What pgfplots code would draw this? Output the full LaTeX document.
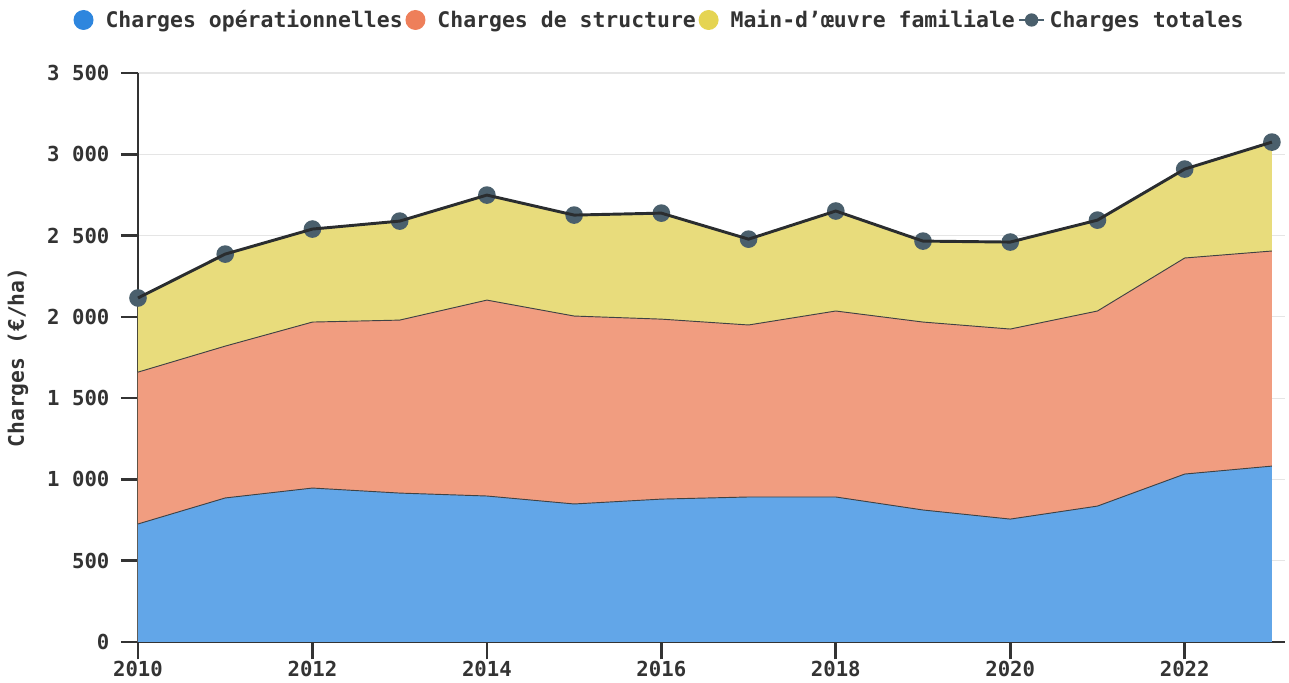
\documentclass[border=0pt]{standalone}
\usepackage{pgfplots}
\pgfplotsset{compat=1.18}
\usepackage{pgfplotstable}
\usepackage{fontspec}
\setmainfont{DejaVu Sans Mono}
\definecolor{blueL}{HTML}{2E86DE}
\definecolor{blueA}{HTML}{62A6E8}
\definecolor{orL}{HTML}{EE7F5A}
\definecolor{orA}{HTML}{F19D80}
\definecolor{yeL}{HTML}{E5D452}
\definecolor{yeA}{HTML}{E8DC7C}
\definecolor{totL}{HTML}{2A2D2F}
\definecolor{totM}{HTML}{4A5F6C}
\definecolor{axc}{HTML}{333333}
\definecolor{txt}{HTML}{333333}
\pgfplotstableread{
year op st tot
2010 726 1660 2116
2011 886 1820 2386
2012 947 1968 2540
2013 916 1980 2589
2014 898 2103 2749
2015 849 2005 2626
2016 879 1986 2638
2017 892 1950 2478
2018 892 2036 2651
2019 812 1968 2466
2020 756 1925 2460
2021 836 2036 2595
2022 1033 2362 2909
2023 1082 2405 3075
}\data
\pgfplotsset{layers/mylayers/.define layer set={axis background,axis ticks,main,axis grid,axis lines,axis tick labels,axis descriptions,axis foreground}{}}
\begin{document}
\begin{tikzpicture}
\begin{axis}[
  set layers=mylayers,
  scale only axis,
  width=860.25pt, height=426.75pt,
  xmin=2010, xmax=2023.15, ymin=0, ymax=3500,
  axis x line=bottom, axis y line=left,
  axis line style={-, line width=2pt, draw=axc},
  xtick={2010,2012,...,2022},
  ytick={0,500,...,3500},
  tick align=outside,
  major tick length=13pt,
  tick style={line width=2pt, draw=axc},
  ymajorgrids, grid style={black, draw opacity=0.1, line width=0.8pt},
  /pgf/number format/assume math mode=true,
  x tick label style={/pgf/number format/1000 sep={}, font=\fontsize{15.5}{17}\selectfont\bfseries, text=txt, yshift=2pt},
  y tick label style={/pgf/number format/1000 sep={\ }, font=\fontsize{15.5}{17}\selectfont\bfseries, text=txt, xshift=-5pt},
  ylabel={Charges (€/ha)},
  ylabel style={font=\fontsize{16}{18}\selectfont\bfseries, text=txt, at={(axis description cs:-0.1046,0.5)}, anchor=center},
  legend style={at={(0.4538,1)}, anchor=center, yshift=39.75pt, draw=none, fill=none,
    font=\fontsize{16.1}{18}\selectfont\bfseries, text=txt,
    nodes={inner sep=0pt},
    /tikz/every even column/.append style={column sep=2pt},
    inner sep=0pt},
  legend columns=4,
  legend cell align=left,
]
\addlegendimage{legend image code/.code={\fill[blueL, draw=none] (7.5pt,0) circle (7.5pt); \path[draw=none, fill=none] (0,0) rectangle (24pt,0.1pt);}}
\addlegendentry{Charges opérationnelles}
\addlegendimage{legend image code/.code={\fill[orL, draw=none] (7.5pt,0) circle (7.5pt); \path[draw=none, fill=none] (0,0) rectangle (24pt,0.1pt);}}
\addlegendentry{Charges de structure}
\addlegendimage{legend image code/.code={\fill[yeL, draw=none] (7.5pt,0) circle (7.5pt); \path[draw=none, fill=none] (0,0) rectangle (24pt,0.1pt);}}
\addlegendentry{Main-d'œuvre familiale}
\addlegendimage{legend image code/.code={\draw[totM, line width=2pt] (0,0)--(19pt,0); \fill[totM, draw=none] (9.5pt,0) circle (5pt); \path[draw=none, fill=none] (0,0) rectangle (23pt,0.1pt);}}
\addlegendentry{Charges totales}

\addplot[draw=none, fill=yeA, forget plot] table[x=year,y=tot]{\data} \closedcycle;
\addplot[draw=none, fill=orA, forget plot] table[x=year,y=st]{\data} \closedcycle;
\addplot[draw=none, fill=blueA, forget plot] table[x=year,y=op]{\data} \closedcycle;
\addplot[draw=totL!90, line width=0.7pt, forget plot] table[x=year,y=op]{\data};
\addplot[draw=totL!90, line width=0.7pt, forget plot] table[x=year,y=st]{\data};
\addplot[on layer=axis foreground, totL, line width=2.2pt, mark=*, mark size=5.5pt,
  mark options={fill=totM, draw=totM}, forget plot] table[x=year,y=tot]{\data};
\end{axis}
\path (-103.5pt,-30pt) rectangle (863.25pt,481.5pt);
\end{tikzpicture}
\end{document}
